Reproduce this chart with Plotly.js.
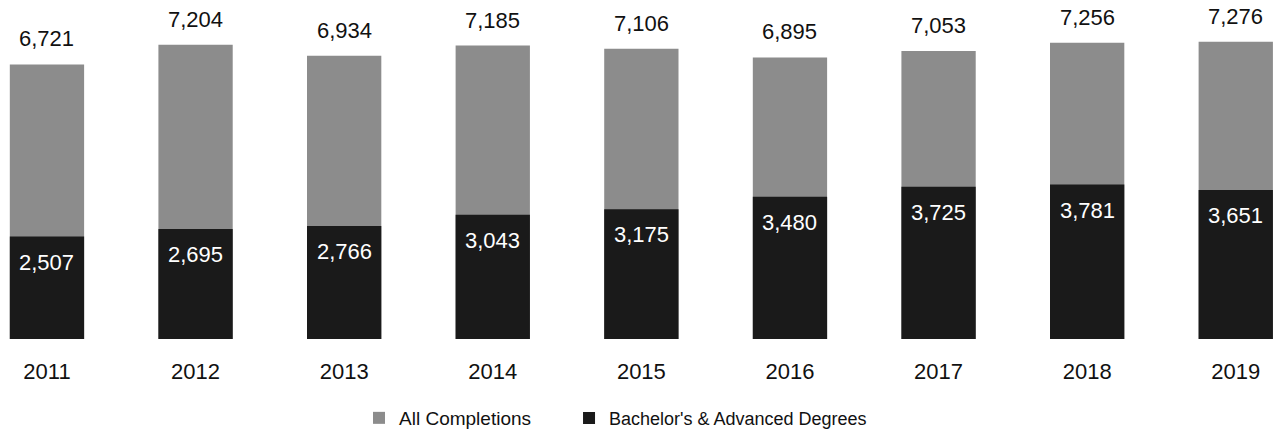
<!DOCTYPE html>
<html>
<head>
<meta charset="utf-8">
<script src="https://cdn.plot.ly/plotly-3.0.1.min.js"></script>
<style>html,body{margin:0;padding:0;background:#fff;}#chart{width:1279px;height:437px;}</style>
</head>
<body>
<div id="chart"></div>
<script>
const years = ['2011','2012','2013','2014','2015','2016','2017','2018','2019'];
const allCompletions = [6721, 7204, 6934, 7185, 7106, 6895, 7053, 7256, 7276];
const bachelorsAdvanced = [2507, 2695, 2766, 3043, 3175, 3480, 3725, 3781, 3651];

const fmt = v => v.toLocaleString('en-US');
const FONT = 'Liberation Sans, Arial, sans-serif';

const traces = [
  {type:'bar', name:'All Completions', x:years, y:allCompletions, width:0.5,
   marker:{color:'#8c8c8c'}, hoverinfo:'skip', legend:'legend'},
  {type:'bar', name:"Bachelor's & Advanced Degrees", x:years, y:bachelorsAdvanced, width:0.5,
   marker:{color:'#1a1a1a'}, hoverinfo:'skip', legend:'legend2'}
];

const annotations = [];
years.forEach((yr,i)=>{
  annotations.push({x:i, y:allCompletions[i], xref:'x', yref:'y', text:fmt(allCompletions[i]), showarrow:false,
    yanchor:'bottom', yshift:11, font:{family:FONT, size:22, color:'#111'}});
  annotations.push({x:i, y:bachelorsAdvanced[i], xref:'x', yref:'y', text:fmt(bachelorsAdvanced[i]), showarrow:false,
    yanchor:'top', yshift:-11, font:{family:FONT, size:22, color:'#fff'}});
});

const layout = {
  width:1279, height:437,
  margin:{l:0, r:0, t:0, b:95},
  paper_bgcolor:'#fff', plot_bgcolor:'#fff',
  barmode:'overlay',
  showlegend:true,
  legend:{orientation:'h', x:0.2807, xanchor:'left', y:-0.234, yanchor:'middle',
    font:{family:FONT, size:19, color:'#111'}, itemwidth:30},
  legend2:{orientation:'h', x:0.4449, xanchor:'left', y:-0.234, yanchor:'middle',
    font:{family:FONT, size:18, color:'#111'}, itemwidth:30},
  xaxis:{type:'category', range:[-0.316, 8.291], showgrid:false, zeroline:false, showline:false,
    ticks:'', ticklabelstandoff:17, tickfont:{family:FONT, size:22, color:'#111'}},
  yaxis:{range:[0, 8300], showticklabels:false, ticks:'', showgrid:false, zeroline:false, showline:false},
  annotations:annotations
};

Plotly.newPlot('chart', traces, layout, {staticPlot:true, displayModeBar:false});
</script>
</body>
</html>
